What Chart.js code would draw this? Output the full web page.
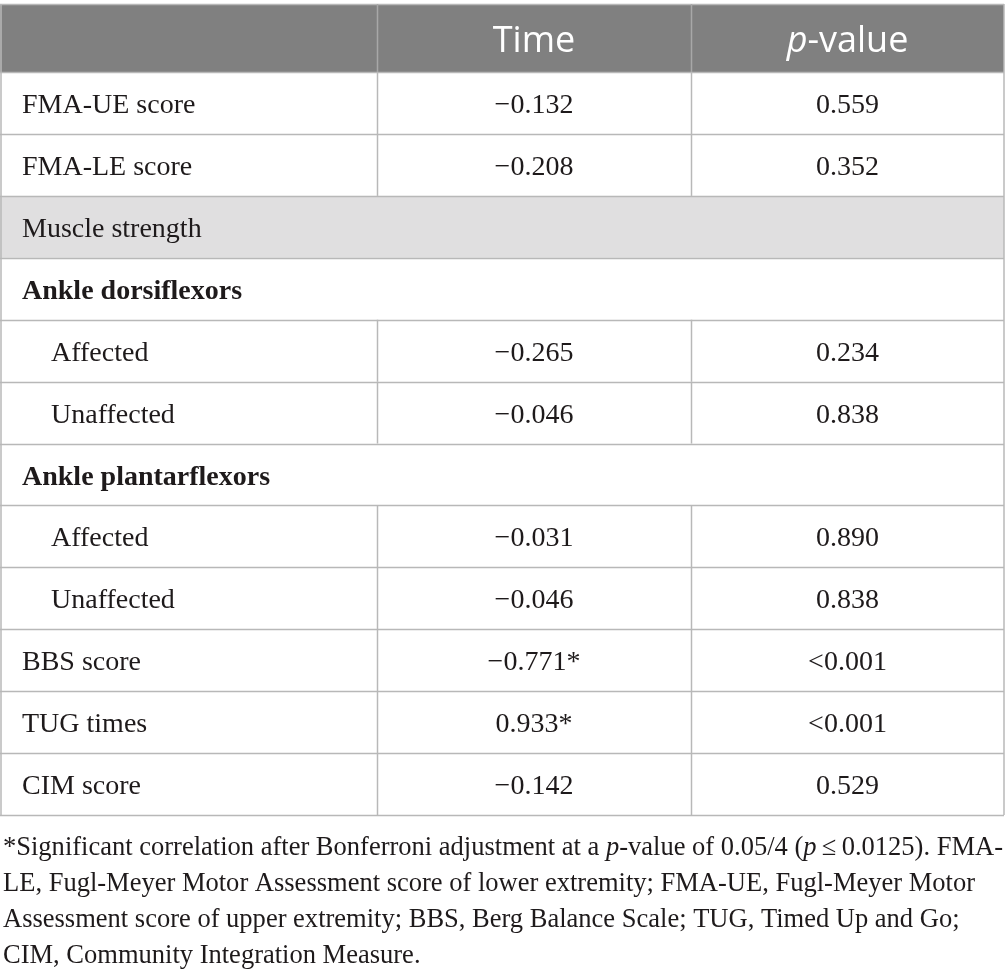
<!DOCTYPE html>
<html>
<head>
<meta charset="utf-8">
<script src="https://cdn.jsdelivr.net/npm/chart.js@4"></script>
<style>
  html, body { margin: 0; padding: 0; background: #ffffff; }
  #wrap { position: relative; width: 1005px; height: 980px; }
</style>
</head>
<body>
<div id="wrap"><canvas id="c"></canvas></div>
<script>
// ---------- DATA ----------
const columnHeaders = ['', 'Time', 'p-value'];
const rowLabels = ['FMA-UE score', 'FMA-LE score', 'Muscle strength', 'Ankle dorsiflexors', 'Affected', 'Unaffected',
                   'Ankle plantarflexors', 'Affected', 'Unaffected', 'BBS score', 'TUG times', 'CIM score'];
const rowKinds = ['item', 'item', 'section', 'group', 'sub', 'sub', 'group', 'sub', 'sub', 'item', 'item', 'item'];
const timeValues = [-0.132, -0.208, null, null, -0.265, -0.046, null, -0.031, -0.046, -0.771, 0.933, -0.142];
const timeSignificant = [false, false, false, false, false, false, false, false, false, true, true, false];
const pValueLabels = ['0.559', '0.352', '', '', '0.234', '0.838', '', '0.890', '0.838', '<0.001', '<0.001', '0.529'];
const footnoteLines = [
  [['*Significant correlation after Bonferroni adjustment at a ', false], ['p', true], ['-value of 0.05/4 (', false], ['p', true], ['\u2009\u2264\u20090.0125). FMA-', false]],
  [['LE, Fugl-Meyer Motor Assessment score of lower extremity; FMA-UE, Fugl-Meyer Motor', false]],
  [['Assessment score of upper extremity; BBS, Berg Balance Scale; TUG, Timed Up and Go;', false]],
  [['CIM, Community Integration Measure.', false]]
];

// ---------- LAYOUT (not data) ----------
const colEdges = [0, 377, 691, 1004];
const HEADER_TOP = -1.1;
const SERIF = '"Liberation Serif", "Times New Roman", serif';
const SANS = '"Open Sans", "Noto Sans", sans-serif';
const TEXT = '#1e1a1b';
const LINE = '#b8b8b8';

function fmtTime(v, sig) {
  if (v === null) return '';
  const s = Math.abs(v).toFixed(3);
  return (v < 0 ? '\u2212' : '') + s + (sig ? '*' : '');
}

const rowCenters = rowLabels.map((_, i) => i + 0.5);
const labelData = rowLabels.map((l, i) => ({ x: 0, y: rowCenters[i] }));
const timeData = rowLabels.map((l, i) => ({ x: (colEdges[1] + colEdges[2]) / 2, y: rowCenters[i] }));
const pData = rowLabels.map((l, i) => ({ x: (colEdges[2] + colEdges[3]) / 2, y: rowCenters[i] }));

const tablePlugin = {
  id: 'tablePlugin',
  beforeDatasetsDraw(chart) {
    const ctx = chart.ctx;
    const xs = chart.scales.x, ys = chart.scales.y;
    const X = v => xs.getPixelForValue(v);
    const Y = v => ys.getPixelForValue(v);
    const left = X(colEdges[0]), right = X(colEdges[3]);
    ctx.save();
    ctx.fillStyle = '#808080';
    ctx.fillRect(left, Y(HEADER_TOP), right - left, Y(0) - Y(HEADER_TOP));
    rowKinds.forEach((k, i) => {
      if (k === 'section') {
        ctx.fillStyle = '#e0dfe0';
        ctx.fillRect(left, Y(i), right - left, Y(i + 1) - Y(i));
      }
    });
    ctx.strokeStyle = LINE;
    ctx.lineWidth = 1.5;
    for (let i = 0; i <= rowLabels.length; i++) {
      const y = Math.round(Y(i)) + 0.5;
      ctx.beginPath(); ctx.moveTo(left, y); ctx.lineTo(right, y); ctx.stroke();
    }
    const yTop = Math.round(Y(HEADER_TOP)) + 0.5;
    ctx.beginPath(); ctx.moveTo(left, yTop); ctx.lineTo(right, yTop); ctx.stroke();
    ctx.beginPath(); ctx.moveTo(left + 1, Y(HEADER_TOP)); ctx.lineTo(left + 1, Y(rowLabels.length)); ctx.stroke();
    ctx.beginPath(); ctx.moveTo(right, Y(HEADER_TOP)); ctx.lineTo(right, Y(rowLabels.length)); ctx.stroke();
    ctx.strokeStyle = '#a8a8a8';
    [1, 2].forEach(c => {
      const x = Math.round(X(colEdges[c])) + 0.5;
      ctx.beginPath(); ctx.moveTo(x, Y(HEADER_TOP)); ctx.lineTo(x, Y(0)); ctx.stroke();
    });
    ctx.strokeStyle = LINE;
    rowKinds.forEach((k, i) => {
      if (k === 'section' || k === 'group') return;
      [1, 2].forEach(c => {
        const x = Math.round(X(colEdges[c])) + 0.5;
        ctx.beginPath(); ctx.moveTo(x, Y(i)); ctx.lineTo(x, Y(i + 1)); ctx.stroke();
      });
    });
    ctx.restore();
  },
  afterDatasetsDraw(chart) {
    const ctx = chart.ctx;
    const xs = chart.scales.x, ys = chart.scales.y;
    const X = v => xs.getPixelForValue(v);
    const Y = v => ys.getPixelForValue(v);
    ctx.save();
    const hy = (Y(HEADER_TOP) + Y(0)) / 2 + 14;
    ctx.fillStyle = '#ffffff';
    ctx.textBaseline = 'alphabetic';
    ctx.font = '36px ' + SANS;
    ctx.textAlign = 'center';
    ctx.fillText(columnHeaders[1], X((colEdges[1] + colEdges[2]) / 2), hy);
    const hdr = columnHeaders[2];
    ctx.font = 'italic 36px ' + SANS;
    const wp = ctx.measureText(hdr[0]).width;
    ctx.font = '36px ' + SANS;
    const wr = ctx.measureText(hdr.slice(1)).width;
    let hx = X((colEdges[2] + colEdges[3]) / 2) - (wp + wr) / 2;
    ctx.textAlign = 'left';
    ctx.font = 'italic 36px ' + SANS;
    ctx.fillText(hdr[0], hx, hy);
    ctx.font = '36px ' + SANS;
    ctx.fillText(hdr.slice(1), hx + wp, hy);

    ctx.fillStyle = TEXT;
    const metaL = chart.getDatasetMeta(0).data;
    const metaT = chart.getDatasetMeta(1).data;
    const metaP = chart.getDatasetMeta(2).data;
    rowLabels.forEach((lab, i) => {
      const k = rowKinds[i];
      const base = metaL[i].y + 10;
      ctx.textAlign = 'left';
      ctx.font = (k === 'group' ? 'bold ' : '') + '28px ' + SERIF;
      const indent = k === 'sub' ? 51 : 22;
      ctx.fillText(lab, metaL[i].x + indent, base);
      ctx.font = '28px ' + SERIF;
      ctx.textAlign = 'center';
      const t = fmtTime(timeValues[i], timeSignificant[i]);
      if (t) ctx.fillText(t, metaT[i].x, base);
      if (pValueLabels[i]) ctx.fillText(pValueLabels[i], metaP[i].x, base);
    });

    ctx.textAlign = 'left';
    const fsz = 27;
    const measureLine = runs => runs.reduce((w, r) => {
      ctx.font = (r[1] ? 'italic ' : '') + fsz + 'px ' + SERIF;
      return w + ctx.measureText(r[0]).width;
    }, 0);
    const w1 = measureLine(footnoteLines[0]);
    let sx = 1000 / w1;
    sx = Math.max(0.85, Math.min(1.15, sx));
    const footTop = Y(rowLabels.length);
    footnoteLines.forEach((runs, li) => {
      const by = footTop + 40 + li * 36;
      ctx.save();
      ctx.translate(3, by);
      ctx.scale(sx, 1);
      let x = 0;
      runs.forEach(r => {
        ctx.font = (r[1] ? 'italic ' : '') + fsz + 'px ' + SERIF;
        ctx.fillText(r[0], x, 0);
        x += ctx.measureText(r[0]).width;
      });
      ctx.restore();
    });
    ctx.restore();
  }
};

new Chart(document.getElementById('c'), {
  type: 'scatter',
  data: {
    datasets: [
      { label: 'Row', data: labelData, pointRadius: 0, pointHoverRadius: 0 },
      { label: columnHeaders[1], data: timeData, pointRadius: 0, pointHoverRadius: 0 },
      { label: columnHeaders[2], data: pData, pointRadius: 0, pointHoverRadius: 0 }
    ]
  },
  options: {
    responsive: true,
    maintainAspectRatio: false,
    animation: false,
    events: [],
    layout: { padding: { top: 4, bottom: 165, left: 0, right: 0 } },
    plugins: { legend: { display: false }, tooltip: { enabled: false } },
    scales: {
      x: { type: 'linear', display: false, min: 0, max: 1005 },
      y: { type: 'linear', display: false, reverse: true, min: HEADER_TOP, max: rowLabels.length }
    }
  },
  plugins: [tablePlugin]
});
</script>
</body>
</html>
